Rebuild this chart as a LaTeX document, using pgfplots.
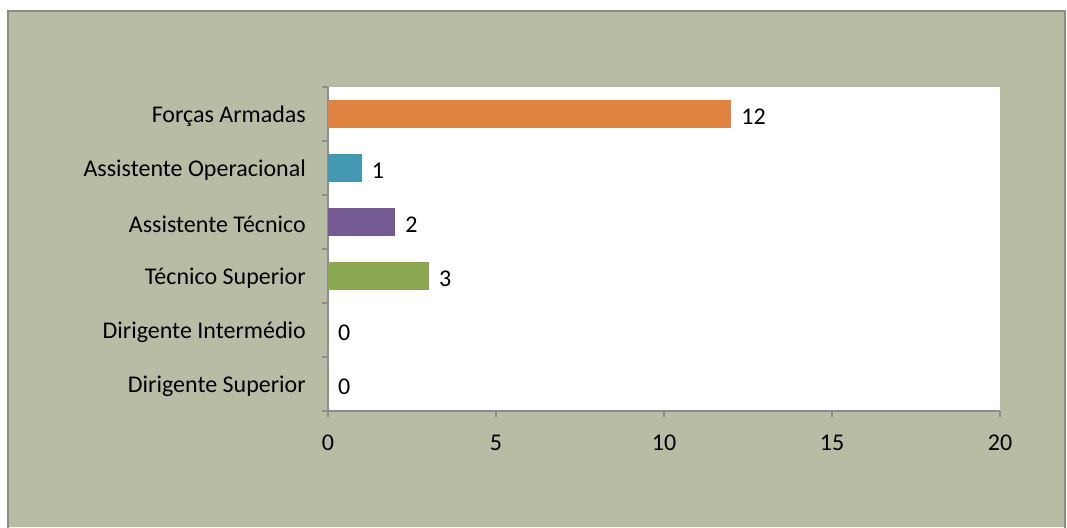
\documentclass[border=0pt]{standalone}
\usepackage{pgfplots}
\pgfplotsset{compat=1.18}
\usepackage{fontspec}
\setmainfont{Carlito}
\definecolor{bg}{HTML}{B9BCA4}
\definecolor{frame}{HTML}{8A8F80}
\definecolor{axgray}{HTML}{8C8C8C}
\definecolor{corange}{HTML}{DE8440}
\definecolor{cteal}{HTML}{4398B4}
\definecolor{cpurple}{HTML}{745A92}
\definecolor{cgreen}{HTML}{8BA750}
\begin{document}
\fontsize{24}{28}\selectfont
\begin{tikzpicture}
\fill[white] (0pt,0pt) rectangle (1067pt,527pt);
\fill[bg] (8pt,0pt) rectangle (1065pt,516pt);
\begin{scope}
\clip (0pt,0pt) rectangle (1067pt,527pt);
\draw[frame, line width=1.5pt] (8pt,-2pt) -- (8pt,516pt) -- (1065pt,516pt) -- (1065pt,-2pt);
\end{scope}
\begin{axis}[
  at={(328pt,116pt)}, anchor=south west,
  width=672pt, height=324pt, scale only axis,
  xmin=0, xmax=20, ymin=-0.5, ymax=5.5,
  axis x line*=bottom, axis y line*=left,
  axis line style={axgray, line width=1.5pt, -},
  axis background/.style={fill=white},
  xbar, bar width=0.52, bar shift=0pt,
  xtick={0,5,10,15,20},
  ytick={0,1,2,3,4,5},
  yticklabels={Dirigente Superior, Dirigente Intermédio, Técnico Superior, Assistente Técnico, Assistente Operacional, {Forças Armadas\hspace{6pt}}},
  minor ytick={-0.5,0.5,1.5,2.5,3.5,4.5,5.5},
  tick align=outside,
  major tick length=6pt, minor tick length=6pt,
  every major y tick/.append style={draw=none},
  every minor y tick/.append style={draw=axgray, line width=1.5pt},
  xtick style={axgray, line width=1.5pt},
  tick label style={font=\fontsize{24}{28}\selectfont},
  yticklabel style={xshift=-8pt, yshift=-2pt},
  xticklabel style={yshift=-10pt},
  /pgf/number format/assume math mode=true,
  nodes near coords,
  every node near coord/.append style={font=\fontsize{24}{28}\selectfont, black, xshift=2pt, yshift=-3pt},
  clip=false,
]
\addplot[draw=none, fill=corange] coordinates {(12,5)};
\addplot[draw=none, fill=cteal] coordinates {(1,4)};
\addplot[draw=none, fill=cpurple] coordinates {(2,3)};
\addplot[draw=none, fill=cgreen] coordinates {(3,2)};
\addplot[draw=none, fill=cgreen] coordinates {(0,1)};
\addplot[draw=none, fill=cgreen] coordinates {(0,0)};
\end{axis}
\end{tikzpicture}
\end{document}
